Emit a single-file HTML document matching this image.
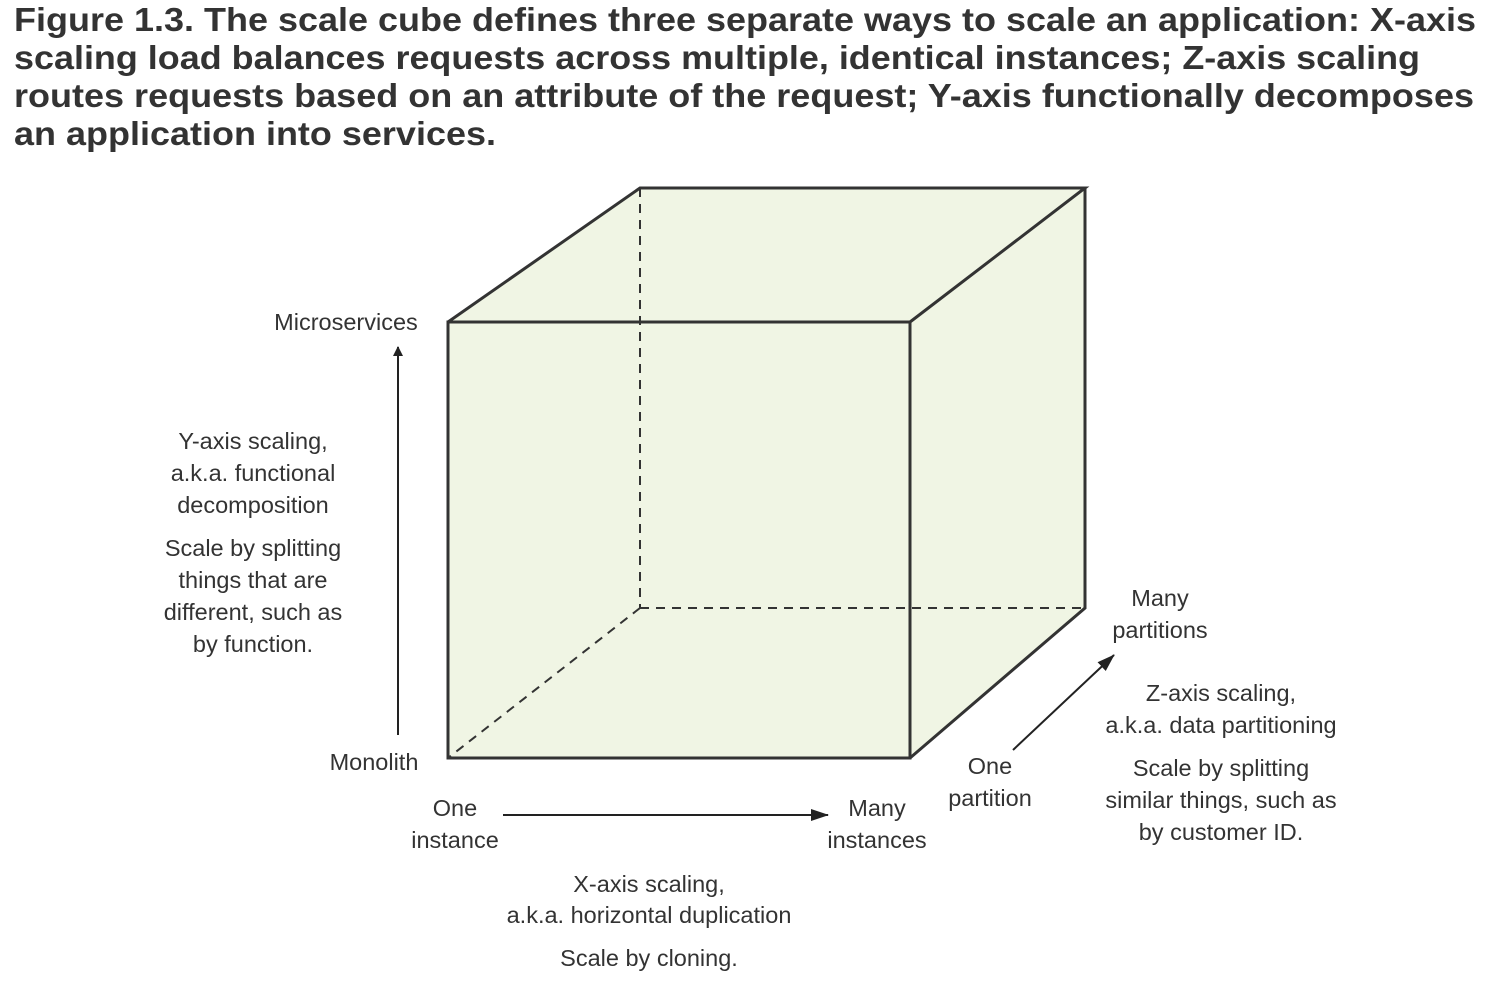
<!DOCTYPE html>
<html><head><meta charset="utf-8"><style>
html,body{margin:0;padding:0;background:#fff;}
svg{display:block;}
.t{font-family:"Liberation Sans",Arial,sans-serif;font-weight:bold;font-size:33px;fill:#333;}
.l{font-family:"Liberation Sans",Arial,sans-serif;font-size:23.5px;fill:#333;text-anchor:middle;dominant-baseline:central;}
</style></head><body>
<svg width="1494" height="994" viewBox="0 0 1494 994" xmlns="http://www.w3.org/2000/svg">
<defs><marker id="a" markerWidth="10" markerHeight="10" refX="9" refY="5" orient="auto" markerUnits="userSpaceOnUse"><path d="M0,0 L10,5 L0,10 z" fill="#222"/></marker>
<marker id="b" markerWidth="18" markerHeight="12" refX="17" refY="6" orient="auto" markerUnits="userSpaceOnUse"><path d="M0,0 L18,6 L0,12 z" fill="#222"/></marker></defs>
<text class="t" x="14" y="31" textLength="1462" lengthAdjust="spacingAndGlyphs">Figure 1.3. The scale cube defines three separate ways to scale an application: X-axis</text>
<text class="t" x="14" y="69" textLength="1406" lengthAdjust="spacingAndGlyphs">scaling load balances requests across multiple, identical instances; Z-axis scaling</text>
<text class="t" x="14" y="107" textLength="1460" lengthAdjust="spacingAndGlyphs">routes requests based on an attribute of the request; Y-axis functionally decomposes</text>
<text class="t" x="14" y="145" textLength="482" lengthAdjust="spacingAndGlyphs">an application into services.</text>

<polygon points="448,322 640,188 1085,188 1085,608 910,758 448,758" fill="#f0f5e4"/>
<g stroke="#333" stroke-width="2" stroke-dasharray="9,7" fill="none">
<line x1="640" y1="188" x2="640" y2="608"/>
<line x1="640" y1="608" x2="1085" y2="608"/>
<line x1="640" y1="608" x2="448" y2="758"/>
</g>
<g stroke="#333" stroke-width="3" fill="none" stroke-linejoin="miter">
<polygon points="448,322 910,322 910,758 448,758"/>
<polyline points="448,322 640,188 1085,188 910,322"/>
<polyline points="1085,188 1085,608 910,758"/>
</g>
<g stroke="#222" stroke-width="2">
<line x1="398" y1="735" x2="398" y2="347" marker-end="url(#a)"/>
<line x1="503" y1="815" x2="828" y2="815" marker-end="url(#b)"/>
<line x1="1013" y1="750" x2="1114" y2="655" marker-end="url(#b)"/>
</g>
<text class="l" x="346" y="322">Microservices</text>
<text class="l" x="253" y="441">Y-axis scaling,</text>
<text class="l" x="253" y="473">a.k.a. functional</text>
<text class="l" x="253" y="505">decomposition</text>
<text class="l" x="253" y="548">Scale by splitting</text>
<text class="l" x="253" y="580">things that are</text>
<text class="l" x="253" y="612">different, such as</text>
<text class="l" x="253" y="644">by function.</text>
<text class="l" x="374" y="762">Monolith</text>
<text class="l" x="455" y="808">One</text>
<text class="l" x="455" y="840">instance</text>
<text class="l" x="877" y="808">Many</text>
<text class="l" x="877" y="840">instances</text>
<text class="l" x="649" y="884">X-axis scaling,</text>
<text class="l" x="649" y="915">a.k.a. horizontal duplication</text>
<text class="l" x="649" y="958">Scale by cloning.</text>
<text class="l" x="990" y="766">One</text>
<text class="l" x="990" y="798">partition</text>
<text class="l" x="1160" y="598">Many</text>
<text class="l" x="1160" y="630">partitions</text>
<text class="l" x="1221" y="693">Z-axis scaling,</text>
<text class="l" x="1221" y="725">a.k.a. data partitioning</text>
<text class="l" x="1221" y="768">Scale by splitting</text>
<text class="l" x="1221" y="800">similar things, such as</text>
<text class="l" x="1221" y="832">by customer ID.</text>
</svg>
</body></html>
